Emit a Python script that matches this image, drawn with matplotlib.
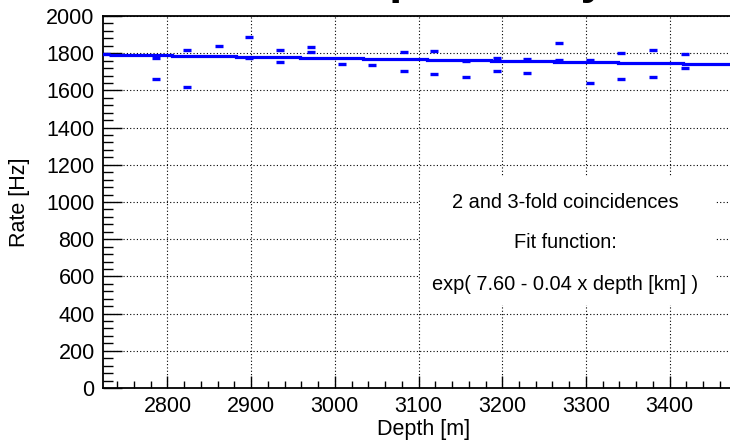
import matplotlib
matplotlib.use("Agg")
import matplotlib.pyplot as plt
from matplotlib.ticker import MultipleLocator
from matplotlib.patches import Rectangle

plt.rcParams['font.family'] = ['Liberation Sans', 'DejaVu Sans']

# measured rates per storey depth (one or two dashes per depth)
depths = [2727, 2786, 2786, 2823, 2823, 2861, 2897, 2897, 2934, 2934,
          2971, 2971, 3008, 3044, 3083, 3083, 3118, 3118, 3157, 3157,
          3194, 3194, 3230, 3230, 3268, 3268, 3305, 3305, 3342, 3342,
          3380, 3380, 3418, 3418]
rates = [1795, 1776, 1663, 1815, 1618, 1838, 1885, 1772, 1815, 1752,
         1833, 1805, 1742, 1736, 1805, 1702, 1810, 1686, 1760, 1674,
         1776, 1702, 1770, 1692, 1855, 1765, 1765, 1641, 1799, 1663,
         1815, 1674, 1794, 1722]

# fit drawn as steps: bin edges [m] and level in each bin [Hz]
fit_edges = [2730, 2806, 2882, 2958, 3034, 3110, 3186, 3262, 3338, 3416, 3495]
fit_levels = [1789, 1783, 1778, 1773, 1767, 1762, 1757, 1751, 1746, 1741]

box_lines = ["2 and 3-fold coincidences",
             "Fit function:",
             "exp( 7.60 - 0.04 x depth [km] )"]

fig = plt.figure(figsize=(7.30, 4.44), dpi=100)
ax = fig.add_axes([103 / 730, 56 / 444, 642 / 730, 372 / 444])

# fit line as a step histogram (no vertical drop to zero at the ends)
ax.stairs(fit_levels, fit_edges, baseline=None, color='#0000ff', lw=2.3,
          zorder=3)
# data points as short horizontal dashes
ax.plot(depths, rates, ls='none', marker='_', ms=6, mew=2.4,
        color='#0000ff', zorder=4)

ax.set_xlim(2723, 3490)
ax.set_ylim(0, 2000)
ax.xaxis.set_major_locator(MultipleLocator(100))
ax.xaxis.set_minor_locator(MultipleLocator(20))
ax.yaxis.set_major_locator(MultipleLocator(200))
ax.yaxis.set_minor_locator(MultipleLocator(40))
ax.tick_params(axis='both', which='both', direction='in', top=False,
               right=False, labelsize=15.5, width=1.0)
ax.tick_params(axis='x', which='major', length=8.5, pad=6)
ax.tick_params(axis='x', which='minor', length=4.8)
ax.tick_params(axis='y', which='major', length=14, pad=6)
ax.tick_params(axis='y', which='minor', length=7)

ax.grid(True, which='major', ls=(0, (1, 2)), color='black', lw=0.8)
ax.set_axisbelow(True)
for s in ax.spines.values():
    s.set_linewidth(1.3)

ax.set_xlabel('Depth [m]', fontsize=15.5, labelpad=1)
ax.set_ylabel('Rate [Hz]', fontsize=15.5, labelpad=12)

# white text box covering the grid
ax.add_patch(Rectangle((3102, 446), 353, 690, facecolor='white',
                       edgecolor='none', zorder=2))
for i, line in enumerate(box_lines):
    fig.text(565 / 730, 1 - (202 + 41 * i) / 444, line, fontsize=14.4,
             ha='center', va='center', zorder=5)

# title, cut off at the top edge of the picture (only descenders show)
fig.text(221 / 730, 1 + 7 / 444, 'Rate dependency', fontsize=33.5,
         fontweight='bold', ha='left', va='baseline')

fig.savefig('out.png', dpi=100)
